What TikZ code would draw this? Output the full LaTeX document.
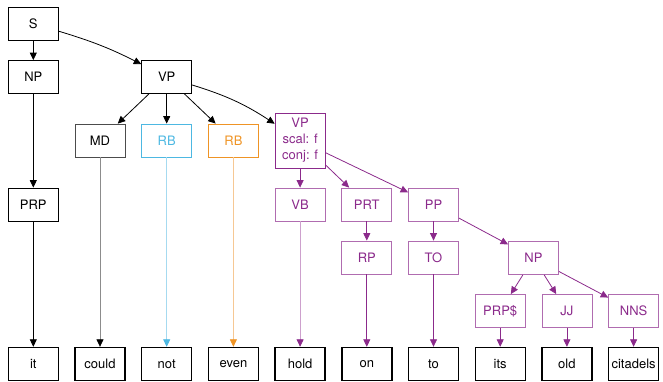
\documentclass[tikz,border=0pt]{standalone}
\usepackage{fontspec}
\setmainfont{TeX Gyre Heros}
\usetikzlibrary{arrows.meta,positioning}

\definecolor{plum}{HTML}{8B2A8B}
\definecolor{plumlight}{HTML}{B06CB0}
\definecolor{plumfaint}{HTML}{CDA0CD}
\definecolor{skyblue}{HTML}{4DB8E2}
\definecolor{skyfaint}{HTML}{A6DAF0}
\definecolor{amber}{HTML}{EF9425}
\definecolor{amberfaint}{HTML}{F6C894}

\begin{document}
\begin{tikzpicture}[x=1pt,y=1pt,->,>={Triangle[length=7.5pt,width=7pt]},thick,on grid,node distance=66.7pt,
  tag/.style={rectangle,draw,line width=0.8pt,minimum width=50pt,minimum height=33pt,inner sep=1pt,font=\fontsize{13}{16}\selectfont},
  word/.style={tag,line width=1.4pt},
  mtag/.style={tag,draw=plumlight,text=plum},
  every edge/.style={draw,line width=0.8pt}]
  \useasboundingbox (0,0) rectangle (663,-381);

  % the words
  \node[word] (it) at (33.3,-364) {it};
  \node[word] (could) [right=of it] {could};
  \node[word] (not) [right=of could] {not};
  \node[word] (even) [right=of not] {even};
  \node[word] (hold) [right=of even] {hold};
  \node[word] (on) [right=of hold] {on};
  \node[word] (to) [right=of on] {to};
  \node[word] (its) [right=of to] {its};
  \node[word] (old) [right=of its] {old};
  \node[word] (citadels) [right=of old] {citadels};

  % the tags
  \node[tag] (PRP) [above=159.5pt of it] {PRP};
  \node[tag] (NP) [above=127.5pt of PRP] {NP};
  \node[tag] (S) [above=53.5pt of NP] {S};
  \node[tag,draw=black!70] (MD) [above=223.5pt of could] {MD};
  \node[tag,draw=skyblue,text=skyblue] (RB1) [above=223.5pt of not] {RB};
  \node[tag,draw=amber,text=amber] (RB2) [above=223.5pt of even] {RB};
  \node[tag] (VP) [above=63.5pt of RB1] {VP};
  \node[mtag,draw=plum,minimum height=55pt,align=center] (VPm) [above=223.5pt of hold] {VP\\scal: f\\conj: f};
  \node[mtag] (VB) [above=159.5pt of hold] {VB};
  \node[mtag] (PRT) [above=159.5pt of on] {PRT};
  \node[mtag] (RP) [above=106.5pt of on] {RP};
  \node[mtag] (PP) [above=159.5pt of to] {PP};
  \node[mtag] (TO) [above=106.5pt of to] {TO};
  \node[mtag] (PRPs) [above=53pt of its] {PRP\$};
  \node[mtag] (JJ) [above=53pt of old] {JJ};
  \node[mtag] (NNS) [above=53pt of citadels] {NNS};
  \node[mtag] (NP2) [above right=53pt and 33.3pt of PRPs] {NP};

  \path
    (S) edge (NP)
    (S) edge [bend left=5] (VP)
    (NP) edge (PRP)
    (PRP) edge (it)
    (VP) edge (MD)
    (VP) edge (RB1)
    (VP) edge (RB2)
    (VP) edge [bend left=8] (VPm)
    (MD) edge [draw=black!45,-{Triangle[length=7.5pt,width=7pt,color=black]}] (could)
    (RB1) edge [draw=skyfaint,-{Triangle[length=7.5pt,width=7pt,color=skyblue]}] (not)
    (RB2) edge [draw=amberfaint,-{Triangle[length=7.5pt,width=7pt,color=amber]}] (even);

  \path[every edge/.append style={plum}]
    (VPm) edge (VB)
    (VPm) edge (PRT)
    (VPm) edge (PP)
    (VB) edge [draw=plumfaint,-{Triangle[length=7.5pt,width=7pt,color=plum]}] (hold)
    (PRT) edge (RP)
    (RP) edge (on)
    (PP) edge (TO)
    (TO) edge (to)
    (PP) edge (NP2)
    (NP2) edge (PRPs)
    (NP2) edge (JJ)
    (NP2) edge (NNS)
    (PRPs) edge (its)
    (JJ) edge (old)
    (NNS) edge (citadels);
\end{tikzpicture}
\end{document}
